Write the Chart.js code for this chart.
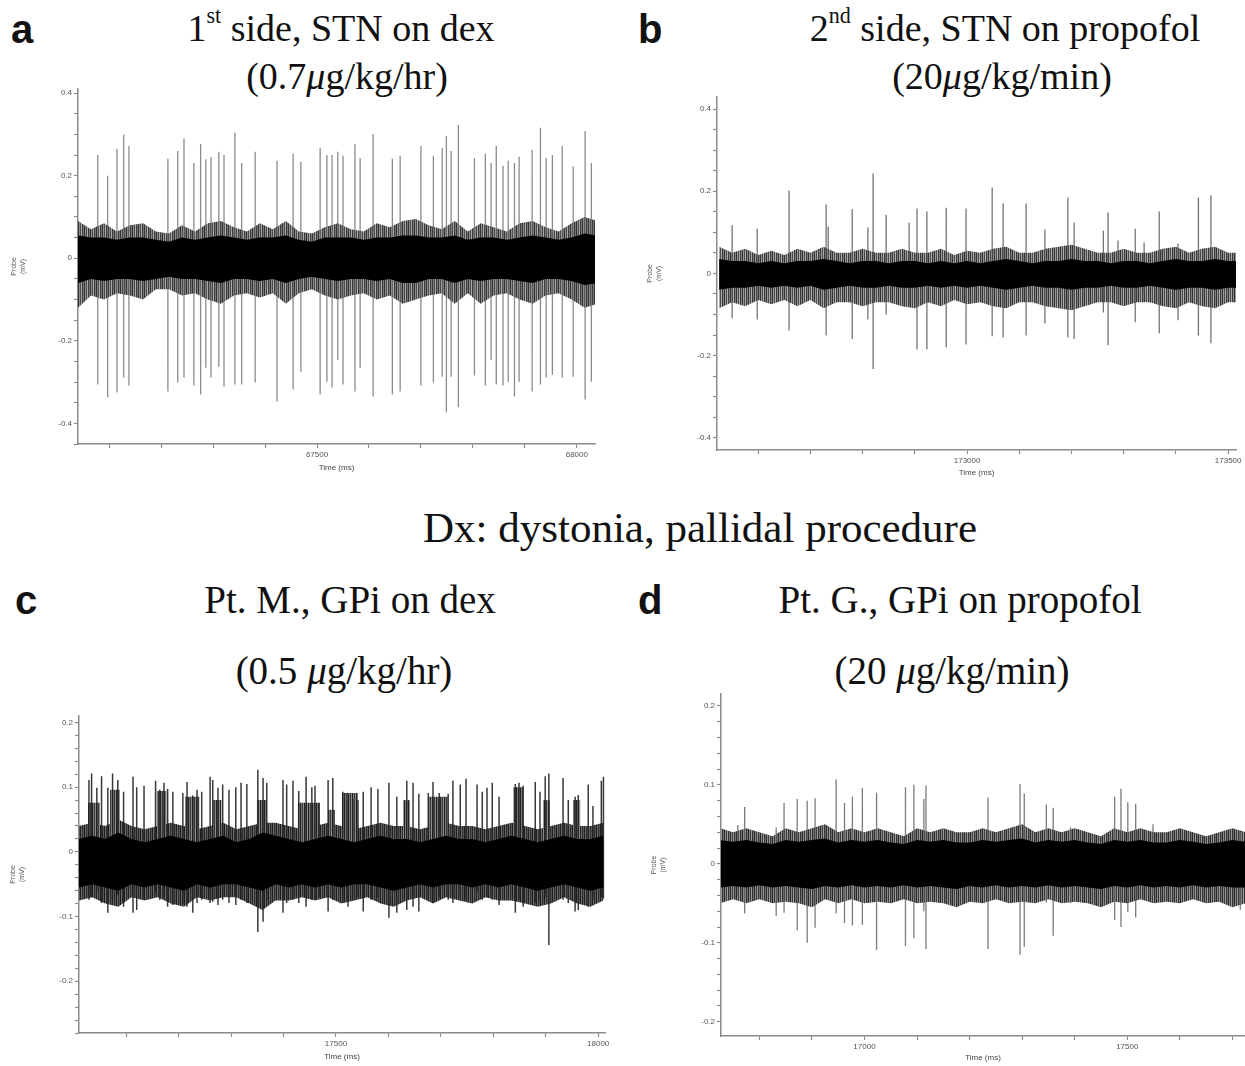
<!DOCTYPE html>
<html>
<head>
<meta charset="utf-8">
<script src="https://cdn.jsdelivr.net/npm/chart.js@4.4.0/dist/chart.umd.min.js"></script>
<style>
body { margin: 0; background: #fff; width: 1245px; height: 1066px; overflow: hidden; position: relative;
       font-family: "Liberation Serif", "Times New Roman", serif; }
canvas { position: absolute; }
.t { position: absolute; white-space: nowrap; line-height: 1; color: #111; transform: translateX(-50%); }
.l { position: absolute; line-height: 1; font-family: "Liberation Sans", Arial, sans-serif; font-weight: bold; font-size: 40px; color: #111; }
.t sup { font-size: 0.58em; line-height: 0; position: relative; top: -0.2em; }
</style>
</head>
<body>
<div class="l" style="left:11px;top:9px">a</div>
<div class="l" style="left:638px;top:9px">b</div>
<div class="l" style="left:15px;top:580px">c</div>
<div class="l" style="left:638px;top:580px">d</div>

<div class="t" style="left:341px;top:9px;font-size:38px">1<sup>st</sup> side, STN on dex</div>
<div class="t" style="left:347px;top:57px;font-size:38px">(0.7<i>μ</i>g/kg/hr)</div>
<div class="t" style="left:1005px;top:9px;font-size:38px">2<sup>nd</sup> side, STN on propofol</div>
<div class="t" style="left:1002px;top:57px;font-size:38px">(20<i>μ</i>g/kg/min)</div>
<div class="t" style="left:700px;top:506px;font-size:43px">Dx: dystonia, pallidal procedure</div>
<div class="t" style="left:350px;top:580px;font-size:39px">Pt. M., GPi on dex</div>
<div class="t" style="left:960px;top:580px;font-size:39px">Pt. G., GPi on propofol</div>
<div class="t" style="left:344px;top:651px;font-size:39px">(0.5 <i>μ</i>g/kg/hr)</div>
<div class="t" style="left:952px;top:651px;font-size:39px">(20 <i>μ</i>g/kg/min)</div>

<canvas id="chartA" width="610" height="400" style="left:0;top:80px"></canvas>
<canvas id="chartB" width="605" height="395" style="left:640px;top:90px"></canvas>
<canvas id="chartC" width="620" height="366" style="left:0;top:700px"></canvas>
<canvas id="chartD" width="605" height="386" style="left:640px;top:680px"></canvas>

<script>
// ---- panel a: 1st side, STN on dex ----
const aNoiseT = [67040, 67065, 67090, 67115, 67140, 67165, 67190, 67215, 67240, 67265, 67290, 67315, 67340, 67365, 67390, 67415, 67440, 67465, 67490, 67515, 67540, 67565, 67590, 67615, 67640, 67665, 67690, 67715, 67740, 67765, 67790, 67815, 67840, 67865, 67890, 67915, 67940, 67965, 67990, 68015, 68040];
const aEdgeHi = [0.09, 0.07, 0.085, 0.065, 0.08, 0.085, 0.065, 0.06, 0.08, 0.065, 0.085, 0.09, 0.075, 0.065, 0.085, 0.07, 0.09, 0.065, 0.06, 0.075, 0.085, 0.07, 0.065, 0.085, 0.075, 0.09, 0.095, 0.08, 0.07, 0.09, 0.065, 0.085, 0.075, 0.065, 0.085, 0.09, 0.075, 0.065, 0.085, 0.1, 0.09];
const aCoreHi = [0.055, 0.05, 0.05, 0.045, 0.05, 0.05, 0.045, 0.04, 0.05, 0.045, 0.05, 0.055, 0.05, 0.045, 0.05, 0.05, 0.055, 0.045, 0.04, 0.05, 0.05, 0.05, 0.045, 0.05, 0.05, 0.055, 0.055, 0.05, 0.05, 0.055, 0.045, 0.05, 0.05, 0.045, 0.05, 0.055, 0.05, 0.045, 0.05, 0.06, 0.055];
const aCoreLo = [-0.06, -0.05, -0.055, -0.05, -0.05, -0.055, -0.05, -0.045, -0.05, -0.05, -0.055, -0.06, -0.05, -0.05, -0.055, -0.05, -0.06, -0.05, -0.045, -0.05, -0.055, -0.05, -0.05, -0.055, -0.05, -0.06, -0.06, -0.05, -0.05, -0.06, -0.05, -0.055, -0.05, -0.05, -0.055, -0.06, -0.05, -0.05, -0.055, -0.065, -0.06];
const aEdgeLo = [-0.12, -0.09, -0.1, -0.085, -0.09, -0.1, -0.075, -0.075, -0.09, -0.085, -0.1, -0.11, -0.09, -0.085, -0.095, -0.085, -0.11, -0.085, -0.075, -0.09, -0.1, -0.09, -0.085, -0.1, -0.09, -0.11, -0.1, -0.09, -0.085, -0.11, -0.085, -0.11, -0.09, -0.085, -0.1, -0.11, -0.09, -0.085, -0.1, -0.12, -0.11];
const aSpikeT = [67078, 67097, 67115, 67128, 67138, 67213, 67232, 67244, 67263, 67276, 67286, 67296, 67311, 67321, 67342, 67355, 67381, 67423, 67454, 67469, 67506, 67519, 67529, 67540, 67550, 67573, 67583, 67608, 67645, 67660, 67700, 67724, 67741, 67749, 67758, 67772, 67803, 67824, 67835, 67845, 67858, 67868, 67880, 67889, 67914, 67930, 67941, 67953, 67972, 67993, 68016, 68028];
const aSpikeHi = [0.25, 0.20, 0.265, 0.299, 0.272, 0.241, 0.26, 0.29, 0.231, 0.277, 0.24, 0.245, 0.258, 0.25, 0.304, 0.231, 0.258, 0.236, 0.253, 0.234, 0.267, 0.25, 0.25, 0.258, 0.248, 0.277, 0.243, 0.301, 0.241, 0.248, 0.272, 0.248, 0.267, 0.296, 0.26, 0.323, 0.243, 0.253, 0.231, 0.272, 0.224, 0.236, 0.231, 0.246, 0.263, 0.316, 0.243, 0.25, 0.272, 0.222, 0.308, 0.231];
const aSpikeLo = [-0.306, -0.337, -0.325, -0.289, -0.308, -0.323, -0.301, -0.289, -0.308, -0.33, -0.265, -0.289, -0.263, -0.311, -0.306, -0.306, -0.301, -0.347, -0.318, -0.275, -0.33, -0.299, -0.313, -0.246, -0.306, -0.323, -0.265, -0.335, -0.33, -0.323, -0.308, -0.301, -0.287, -0.373, -0.287, -0.361, -0.284, -0.308, -0.246, -0.306, -0.308, -0.299, -0.335, -0.299, -0.323, -0.306, -0.289, -0.282, -0.289, -0.287, -0.342, -0.299];
const aXTicks = [67100, 67200, 67300, 67400, 67500, 67600, 67700, 67800, 67900, 68000];
const aXLabels = [67500, 68000];
const aYLabels = [0.4, 0.2, 0, -0.2, -0.4];

// ---- panel b: 2nd side, STN on propofol ----
const bNoiseT = [172525, 172550, 172575, 172600, 172625, 172650, 172675, 172700, 172725, 172750, 172775, 172800, 172825, 172850, 172875, 172900, 172925, 172950, 172975, 173000, 173025, 173050, 173075, 173100, 173125, 173150, 173175, 173200, 173225, 173250, 173275, 173300, 173325, 173350, 173375, 173400, 173425, 173450, 173475, 173500, 173525];
const bEdgeHi = [0.065, 0.05, 0.06, 0.045, 0.055, 0.045, 0.06, 0.05, 0.065, 0.05, 0.05, 0.06, 0.05, 0.05, 0.06, 0.05, 0.05, 0.06, 0.045, 0.055, 0.05, 0.06, 0.065, 0.05, 0.05, 0.06, 0.065, 0.07, 0.06, 0.05, 0.05, 0.06, 0.05, 0.05, 0.06, 0.065, 0.05, 0.06, 0.065, 0.05, 0.05];
const bCoreHi = [0.035, 0.03, 0.03, 0.025, 0.03, 0.025, 0.03, 0.03, 0.035, 0.03, 0.025, 0.03, 0.03, 0.025, 0.03, 0.03, 0.025, 0.03, 0.025, 0.03, 0.025, 0.03, 0.035, 0.03, 0.025, 0.03, 0.03, 0.035, 0.03, 0.03, 0.025, 0.03, 0.03, 0.025, 0.03, 0.035, 0.03, 0.03, 0.035, 0.03, 0.03];
const bCoreLo = [-0.04, -0.035, -0.035, -0.03, -0.035, -0.03, -0.035, -0.03, -0.04, -0.035, -0.03, -0.035, -0.035, -0.03, -0.035, -0.035, -0.03, -0.035, -0.03, -0.035, -0.03, -0.035, -0.04, -0.035, -0.03, -0.035, -0.035, -0.04, -0.035, -0.035, -0.03, -0.035, -0.035, -0.03, -0.035, -0.04, -0.035, -0.035, -0.04, -0.035, -0.035];
const bEdgeLo = [-0.085, -0.07, -0.08, -0.065, -0.075, -0.065, -0.08, -0.065, -0.085, -0.07, -0.07, -0.08, -0.07, -0.07, -0.08, -0.085, -0.07, -0.08, -0.065, -0.075, -0.07, -0.08, -0.085, -0.07, -0.07, -0.08, -0.085, -0.09, -0.08, -0.07, -0.07, -0.08, -0.07, -0.07, -0.08, -0.085, -0.07, -0.08, -0.085, -0.07, -0.07];
const bSpikeT = [172550, 172598, 172659, 172730, 172734, 172780, 172810, 172820, 172845, 172889, 172904, 172923, 172960, 172998, 173048, 173069, 173113, 173149, 173193, 173205, 173261, 173270, 173289, 173322, 173339, 173368, 173404, 173443, 173467];
const bSpikeHi = [0.117, 0.109, 0.202, 0.168, 0.114, 0.156, 0.112, 0.243, 0.143, 0.124, 0.158, 0.151, 0.16, 0.158, 0.209, 0.17, 0.17, 0.107, 0.185, 0.124, 0.104, 0.148, 0.08, 0.109, 0.075, 0.151, 0.073, 0.185, 0.19];
const bSpikeLo = [-0.109, -0.112, -0.139, -0.151, -0.06, -0.16, -0.112, -0.233, -0.10, -0.07, -0.185, -0.185, -0.18, -0.173, -0.153, -0.156, -0.151, -0.122, -0.156, -0.16, -0.095, -0.175, -0.073, -0.119, -0.05, -0.146, -0.114, -0.151, -0.17];
const bXTicks = [172600, 172700, 172800, 172900, 173000, 173100, 173200, 173300, 173400, 173500];
const bXLabels = [173000, 173500];
const bYLabels = [0.4, 0.2, 0, -0.2, -0.4];

// ---- panel c: Pt. M., GPi on dex ----
const cNoiseT = [17010, 17035, 17060, 17085, 17110, 17135, 17160, 17185, 17210, 17235, 17260, 17285, 17310, 17335, 17360, 17385, 17410, 17435, 17460, 17485, 17510, 17535, 17560, 17585, 17610, 17635, 17660, 17685, 17710, 17735, 17760, 17785, 17810, 17835, 17860, 17885, 17910, 17935, 17960, 17985, 18010];
const cEdgeHi = [0.04, 0.045, 0.04, 0.05, 0.04, 0.035, 0.04, 0.045, 0.04, 0.035, 0.04, 0.045, 0.035, 0.04, 0.045, 0.045, 0.04, 0.035, 0.04, 0.045, 0.04, 0.035, 0.04, 0.045, 0.04, 0.04, 0.035, 0.04, 0.045, 0.04, 0.04, 0.035, 0.04, 0.045, 0.04, 0.035, 0.04, 0.045, 0.04, 0.04, 0.045];
const cCoreHi = [0.02, 0.025, 0.02, 0.03, 0.02, 0.015, 0.02, 0.025, 0.02, 0.015, 0.02, 0.025, 0.015, 0.02, 0.03, 0.025, 0.02, 0.015, 0.02, 0.025, 0.02, 0.015, 0.02, 0.025, 0.02, 0.02, 0.015, 0.02, 0.025, 0.02, 0.02, 0.015, 0.02, 0.025, 0.02, 0.015, 0.02, 0.025, 0.02, 0.02, 0.025];
const cCoreLo = [-0.055, -0.05, -0.055, -0.06, -0.05, -0.055, -0.05, -0.055, -0.06, -0.05, -0.055, -0.05, -0.05, -0.055, -0.06, -0.05, -0.055, -0.05, -0.055, -0.05, -0.055, -0.05, -0.05, -0.055, -0.06, -0.055, -0.05, -0.055, -0.05, -0.05, -0.055, -0.05, -0.055, -0.05, -0.055, -0.06, -0.055, -0.05, -0.055, -0.06, -0.055];
const cEdgeLo = [-0.075, -0.07, -0.08, -0.085, -0.07, -0.075, -0.07, -0.08, -0.085, -0.07, -0.075, -0.07, -0.07, -0.08, -0.09, -0.075, -0.075, -0.07, -0.075, -0.07, -0.08, -0.075, -0.07, -0.08, -0.085, -0.075, -0.07, -0.08, -0.07, -0.075, -0.08, -0.07, -0.075, -0.075, -0.08, -0.085, -0.08, -0.07, -0.08, -0.085, -0.075];
const cSpikeT = [17029, 17034, 17044, 17053, 17065, 17074, 17084, 17095, 17113, 17120, 17134, 17156, 17164, 17172, 17179, 17189, 17208, 17216, 17227, 17235, 17244, 17260, 17265, 17275, 17284, 17296, 17309, 17319, 17330, 17351, 17361, 17368, 17399, 17406, 17418, 17429, 17443, 17454, 17460, 17468, 17485, 17494, 17513, 17523, 17532, 17542, 17552, 17567, 17580, 17601, 17616, 17635, 17647, 17658, 17676, 17685, 17697, 17714, 17723, 17737, 17748, 17769, 17779, 17788, 17798, 17811, 17842, 17849, 17857, 17880, 17889, 17899, 17906, 17933, 17943, 17956, 17962, 17981, 17990, 18006, 18010];
const cSpikeHi = [0.111, 0.121, 0.099, 0.117, 0.099, 0.121, 0.111, 0.093, 0.116, 0.100, 0.102, 0.110, 0.096, 0.107, 0.097, 0.093, 0.091, 0.108, 0.087, 0.096, 0.093, 0.116, 0.111, 0.099, 0.104, 0.096, 0.100, 0.107, 0.105, 0.127, 0.114, 0.107, 0.111, 0.104, 0.110, 0.094, 0.116, 0.100, 0.102, 0.076, 0.111, 0.114, 0.093, 0.091, 0.082, 0.080, 0.093, 0.100, 0.097, 0.107, 0.085, 0.110, 0.107, 0.090, 0.091, 0.108, 0.091, 0.090, 0.110, 0.104, 0.113, 0.104, 0.093, 0.099, 0.107, 0.085, 0.105, 0.107, 0.102, 0.108, 0.093, 0.117, 0.121, 0.114, 0.080, 0.085, 0.088, 0.104, 0.071, 0.110, 0.116];
const cSpikeLo = [-0.074, -0.07, -0.063, -0.079, -0.094, -0.074, -0.066, -0.085, -0.094, -0.09, -0.074, -0.063, -0.074, -0.07, -0.085, -0.082, -0.08, -0.085, -0.094, -0.079, -0.074, -0.079, -0.077, -0.082, -0.074, -0.079, -0.082, -0.074, -0.079, -0.124, -0.108, -0.074, -0.094, -0.079, -0.074, -0.079, -0.085, -0.074, -0.074, -0.07, -0.092, -0.074, -0.079, -0.085, -0.074, -0.07, -0.092, -0.074, -0.07, -0.102, -0.094, -0.09, -0.085, -0.092, -0.074, -0.079, -0.07, -0.074, -0.079, -0.07, -0.074, -0.063, -0.074, -0.07, -0.074, -0.082, -0.094, -0.074, -0.085, -0.079, -0.074, -0.07, -0.144, -0.074, -0.079, -0.092, -0.09, -0.085, -0.074, -0.07, -0.072];
// dense firing bursts (shaded blocks between spikes)
const cBurstStart = [17027, 17069, 17158, 17212, 17265, 17349, 17427, 17485, 17511, 17628, 17676, 17838, 17895, 17952];
const cBurstEnd = [17050, 17088, 17177, 17240, 17282, 17368, 17469, 17498, 17542, 17641, 17714, 17857, 17908, 17966];
const cBurstTop = [0.076, 0.096, 0.094, 0.085, 0.08, 0.08, 0.076, 0.065, 0.091, 0.08, 0.085, 0.1, 0.08, 0.08];
const cXTicks = [17100, 17200, 17300, 17400, 17500, 17600, 17700, 17800, 17900, 18000];
const cXLabels = [17500, 18000];
const cYLabels = [0.2, 0.1, 0, -0.1, -0.2];

// ---- panel d: Pt. G., GPi on propofol ----
const dNoiseT = [16725, 16750, 16775, 16800, 16825, 16850, 16875, 16900, 16925, 16950, 16975, 17000, 17025, 17050, 17075, 17100, 17125, 17150, 17175, 17200, 17225, 17250, 17275, 17300, 17325, 17350, 17375, 17400, 17425, 17450, 17475, 17500, 17525, 17550, 17575, 17600, 17625, 17650, 17675, 17700, 17725];
const dEdgeHi = [0.045, 0.04, 0.045, 0.04, 0.035, 0.045, 0.04, 0.045, 0.05, 0.04, 0.045, 0.04, 0.045, 0.04, 0.035, 0.045, 0.04, 0.045, 0.04, 0.04, 0.045, 0.04, 0.045, 0.05, 0.04, 0.045, 0.04, 0.045, 0.04, 0.035, 0.045, 0.04, 0.045, 0.04, 0.04, 0.045, 0.04, 0.035, 0.04, 0.045, 0.04];
const dCoreHi = [0.03, 0.028, 0.03, 0.027, 0.025, 0.03, 0.028, 0.03, 0.032, 0.027, 0.03, 0.028, 0.03, 0.027, 0.025, 0.03, 0.028, 0.03, 0.027, 0.027, 0.03, 0.028, 0.03, 0.032, 0.027, 0.03, 0.028, 0.03, 0.027, 0.025, 0.03, 0.028, 0.03, 0.027, 0.027, 0.03, 0.028, 0.025, 0.027, 0.03, 0.028];
const dCoreLo = [-0.03, -0.028, -0.03, -0.027, -0.03, -0.028, -0.03, -0.032, -0.028, -0.03, -0.027, -0.03, -0.028, -0.03, -0.027, -0.03, -0.028, -0.03, -0.032, -0.028, -0.03, -0.027, -0.03, -0.028, -0.03, -0.027, -0.03, -0.028, -0.03, -0.032, -0.028, -0.03, -0.027, -0.03, -0.028, -0.03, -0.027, -0.03, -0.028, -0.03, -0.03];
const dEdgeLo = [-0.05, -0.045, -0.05, -0.045, -0.05, -0.048, -0.05, -0.055, -0.045, -0.05, -0.045, -0.05, -0.048, -0.05, -0.045, -0.05, -0.048, -0.05, -0.055, -0.048, -0.05, -0.045, -0.05, -0.048, -0.05, -0.045, -0.05, -0.048, -0.05, -0.055, -0.048, -0.05, -0.045, -0.05, -0.048, -0.05, -0.045, -0.05, -0.048, -0.055, -0.05];
const dSpikeT = [16759, 16772, 16832, 16847, 16872, 16891, 16906, 16946, 16962, 16977, 16996, 17023, 17078, 17094, 17113, 17117, 17235, 17296, 17304, 17346, 17359, 17392, 17476, 17488, 17501, 17516, 17549, 17715];
const dSpikeHi = [0.049, 0.072, 0.046, 0.077, 0.082, 0.080, 0.083, 0.107, 0.077, 0.085, 0.096, 0.090, 0.097, 0.100, 0.082, 0.099, 0.084, 0.101, 0.089, 0.075, 0.071, 0.046, 0.085, 0.095, 0.078, 0.076, 0.050, 0.040];
const dSpikeLo = [-0.04, -0.063, -0.066, -0.062, -0.084, -0.100, -0.081, -0.063, -0.075, -0.078, -0.077, -0.109, -0.104, -0.094, -0.06, -0.108, -0.108, -0.115, -0.105, -0.049, -0.091, -0.05, -0.071, -0.080, -0.061, -0.068, -0.04, -0.058];
const dXTicks = [16800, 16900, 17000, 17100, 17200, 17300, 17400, 17500, 17600, 17700];
const dXLabels = [17000, 17500];
const dYLabels = [0.2, 0.1, 0, -0.1, -0.2];

const axisGray = '#8a8a8a';
const labelFont = { family: '"Liberation Sans", Arial, sans-serif', size: 8 };

// vertical-hair texture used to fill the noisy fringe of the trace
function stripes(colors) {
    const c = document.createElement('canvas');
    c.width = colors.length;
    c.height = 1;
    const g = c.getContext('2d');
    colors.forEach((col, i) => { g.fillStyle = col; g.fillRect(i, 0, 1, 1); });
    return g.createPattern(c, 'repeat');
}

function points(ts, vs) {
    return ts.map((t, i) => ({ x: t, y: vs[i] }));
}

function drawPanel(id, p) {
    const spikes = [];
    p.spikeT.forEach((t, i) => {
        spikes.push({ x: t, y: p.spikeLo[i] }, { x: t, y: p.spikeHi[i] }, { x: t, y: null });
    });
    const bursts = [];
    (p.burstStart || []).forEach((s, i) => {
        const e = p.burstEnd[i], top = p.burstTop[i];
        bursts.push({ x: s, y: 0 }, { x: s, y: top }, { x: e, y: top }, { x: e, y: 0 }, { x: e, y: null });
    });
    const isLabel = (list, v) => list.some(l => Math.abs(l - v) < 1e-6);
    new Chart(document.getElementById(id), {
        type: 'line',
        data: {
            datasets: [
                { data: points(p.noiseT, p.edgeHi), fill: '+1', backgroundColor: p.edgeFill, borderWidth: 0, pointRadius: 0, order: 5 },
                { data: points(p.noiseT, p.edgeLo), borderWidth: 0, pointRadius: 0, order: 5 },
                { data: bursts, fill: 'origin', backgroundColor: stripes(['#222', '#777', '#3a3a3a', '#8a8a8a']), borderWidth: 0, pointRadius: 0, spanGaps: false, order: 4 },
                { data: spikes, borderColor: p.spikeColor, borderWidth: p.spikeWidth, pointRadius: 0, spanGaps: false, order: 3 },
                { data: points(p.noiseT, p.coreHi), fill: '+1', backgroundColor: '#000', borderWidth: 0, pointRadius: 0, order: 1 },
                { data: points(p.noiseT, p.coreLo), borderWidth: 0, pointRadius: 0, order: 1 }
            ]
        },
        options: {
            responsive: false,
            animation: false,
            events: [],
            layout: { autoPadding: false, padding: { left: 0, top: p.padTop, right: p.padRight, bottom: 0 } },
            plugins: { legend: { display: false }, tooltip: { enabled: false } },
            scales: {
                x: {
                    type: 'linear', min: p.xMin, max: p.xMax,
                    border: { color: axisGray, width: 1.5 },
                    grid: { drawOnChartArea: false, color: axisGray, tickLength: 4, tickWidth: 1.2 },
                    afterBuildTicks: s => { s.ticks = p.xTicks.map(v => ({ value: v })); },
                    ticks: {
                        autoSkip: false, maxRotation: 0, padding: 2,
                        color: '#555', font: labelFont,
                        callback: v => isLabel(p.xLabels, v) ? String(v) : ''
                    },
                    title: { display: true, text: 'Time (ms)', color: '#444', font: labelFont, padding: { top: 0, bottom: p.xTitlePad } },
                    afterFit: s => { s.height = p.xH; }
                },
                y: {
                    min: p.yMin, max: p.yMax,
                    border: { color: axisGray, width: 1.5 },
                    grid: { drawOnChartArea: false, color: axisGray, tickLength: 4, tickWidth: 1.2 },
                    ticks: {
                        stepSize: p.yStep, includeBounds: false, autoSkip: false, padding: 2,
                        color: '#555', font: labelFont,
                        callback: v => isLabel(p.yLabels, v) ? String(Math.round(v * 10) / 10) : ''
                    },
                    title: { display: true, text: ['Probe', '(mV)'], color: '#555', font: { family: labelFont.family, size: 7 }, padding: { top: p.yTitlePad, bottom: 0 } },
                    afterFit: s => { s.width = p.yW; }
                }
            }
        }
    });
}

drawPanel('chartA', {
    noiseT: aNoiseT, edgeHi: aEdgeHi, edgeLo: aEdgeLo, coreHi: aCoreHi, coreLo: aCoreLo,
    spikeT: aSpikeT, spikeHi: aSpikeHi, spikeLo: aSpikeLo, xTicks: aXTicks, xLabels: aXLabels, yLabels: aYLabels,
    xMin: 67040, xMax: 68035, yMin: -0.45, yMax: 0.41, yStep: 0.05,
    yW: 78, xH: 36, padTop: 9, padRight: 15, xTitlePad: 7, yTitlePad: 10,
    edgeFill: stripes(['#333', '#8c8c8c', '#4a4a4a', '#a8a8a8', '#3c3c3c', '#777']),
    spikeColor: 'rgba(110,110,110,0.8)', spikeWidth: 1.3
});
drawPanel('chartB', {
    noiseT: bNoiseT, edgeHi: bEdgeHi, edgeLo: bEdgeLo, coreHi: bCoreHi, coreLo: bCoreLo,
    spikeT: bSpikeT, spikeHi: bSpikeHi, spikeLo: bSpikeLo, xTicks: bXTicks, xLabels: bXLabels, yLabels: bYLabels,
    xMin: 172521, xMax: 173515, yMin: -0.43, yMax: 0.43, yStep: 0.05,
    yW: 77, xH: 35, padTop: 6, padRight: 9, xTitlePad: 7, yTitlePad: 6,
    edgeFill: stripes(['#333', '#999', '#4a4a4a', '#aaa', '#3c3c3c', '#808080']),
    spikeColor: 'rgba(80,80,80,0.8)', spikeWidth: 1.3
});
drawPanel('chartC', {
    noiseT: cNoiseT, edgeHi: cEdgeHi, edgeLo: cEdgeLo, coreHi: cCoreHi, coreLo: cCoreLo,
    spikeT: cSpikeT, spikeHi: cSpikeHi, spikeLo: cSpikeLo, xTicks: cXTicks, xLabels: cXLabels, yLabels: cYLabels,
    burstStart: cBurstStart, burstEnd: cBurstEnd, burstTop: cBurstTop,
    xMin: 17010, xMax: 18013, yMin: -0.28, yMax: 0.21, yStep: 0.02,
    yW: 79, xH: 33, padTop: 16, padRight: 15, xTitlePad: 4, yTitlePad: 9,
    edgeFill: stripes(['#1e1e1e', '#6a6a6a', '#2e2e2e', '#555']),
    spikeColor: 'rgba(35,35,35,0.9)', spikeWidth: 1.5
});
drawPanel('chartD', {
    noiseT: dNoiseT, edgeHi: dEdgeHi, edgeLo: dEdgeLo, coreHi: dCoreHi, coreLo: dCoreLo,
    spikeT: dSpikeT, spikeHi: dSpikeHi, spikeLo: dSpikeLo, xTicks: dXTicks, xLabels: dXLabels, yLabels: dYLabels,
    xMin: 16727, xMax: 17724, yMin: -0.218, yMax: 0.215, yStep: 0.02,
    yW: 81, xH: 30, padTop: 14, padRight: 0, xTitlePad: 3, yTitlePad: 10,
    edgeFill: stripes(['#2a2a2a', '#888', '#3a3a3a', '#9a9a9a', '#333', '#707070']),
    spikeColor: 'rgba(100,100,100,0.85)', spikeWidth: 1.3
});
</script>
</body>
</html>
